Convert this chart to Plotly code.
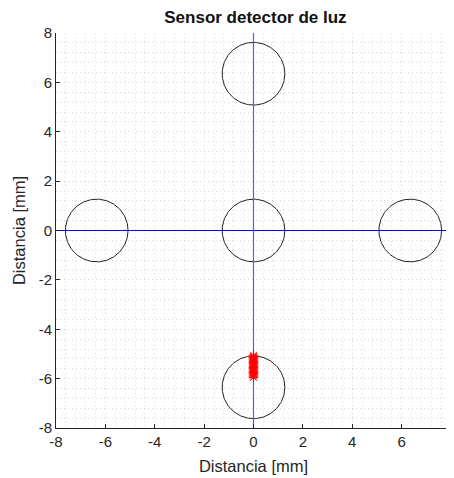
import numpy as np
import plotly.graph_objects as go

# Data
circle_cx = [0.0, -6.35, 0.0, 6.35, 0.0]
circle_cy = [0.0, 0.0, 6.35, 0.0, -6.35]
circle_r = 1.27
spot_x = [0.0] * 19
spot_y = [-5.05, -5.1, -5.15, -5.2, -5.25, -5.3, -5.35, -5.4, -5.45, -5.5,
          -5.55, -5.6, -5.65, -5.7, -5.75, -5.8, -5.85, -5.9, -5.95]
ticks = [-8, -6, -4, -2, 0, 2, 4, 6, 8]
axis_x = [-8, 8]
axis_y = [0, 0]

fig = go.Figure()

t = np.linspace(0, 2 * np.pi, 200)
for cx, cy in zip(circle_cx, circle_cy):
    fig.add_trace(go.Scatter(x=cx + circle_r * np.cos(t), y=cy + circle_r * np.sin(t),
                             mode="lines", line=dict(color="#222222", width=1),
                             showlegend=False))

# Axis cross lines
fig.add_trace(go.Scatter(x=axis_x, y=axis_y, mode="lines",
                         line=dict(color="#0000ff", width=1), showlegend=False))
fig.add_trace(go.Scatter(x=axis_y, y=axis_x, mode="lines",
                         line=dict(color="#5a5aff", width=1.2), showlegend=False))

fig.add_trace(go.Scatter(x=spot_x, y=spot_y, mode="markers",
                         marker=dict(symbol="asterisk-open", size=8, color="#ff0000",
                                     line=dict(color="#ff0000", width=1)),
                         showlegend=False))

axis_common = dict(
    range=[-8, 8], tickvals=ticks, ticktext=[str(v) for v in ticks],
    ticks="inside", ticklen=4, tickcolor="#262626",
    showline=True, linecolor="#262626", linewidth=1,
    showgrid=True, gridcolor="#d4d4d4", griddash="1px,3px", gridwidth=1,
    minor=dict(dtick=0.4, showgrid=True, gridcolor="#dcdcdc", griddash="1px,3px",
               gridwidth=1, ticks=""),
    zeroline=False, mirror=False, automargin=False, showspikes=False,
    tickfont=dict(family="Liberation Sans, Arial", size=15, color="#262626"),
    title_font=dict(family="Liberation Sans, Arial", size=16.5, color="#262626"),
)

fig.update_xaxes(**axis_common, title_text="Distancia [mm]", title_standoff=11)
fig.update_yaxes(**axis_common, title_text="Distancia [mm]", title_standoff=8)

fig.update_layout(
    width=454, height=478,
    margin=dict(l=48, r=11, t=25, b=58, autoexpand=False),
    paper_bgcolor="white", plot_bgcolor="white",
    title=dict(text="<b>Sensor detector de luz</b>", x=0.545, xanchor="center",
               y=0.993, yanchor="top",
               font=dict(family="Liberation Sans, Arial", size=17, color="#111111")),
)

fig.write_html("out.html")
